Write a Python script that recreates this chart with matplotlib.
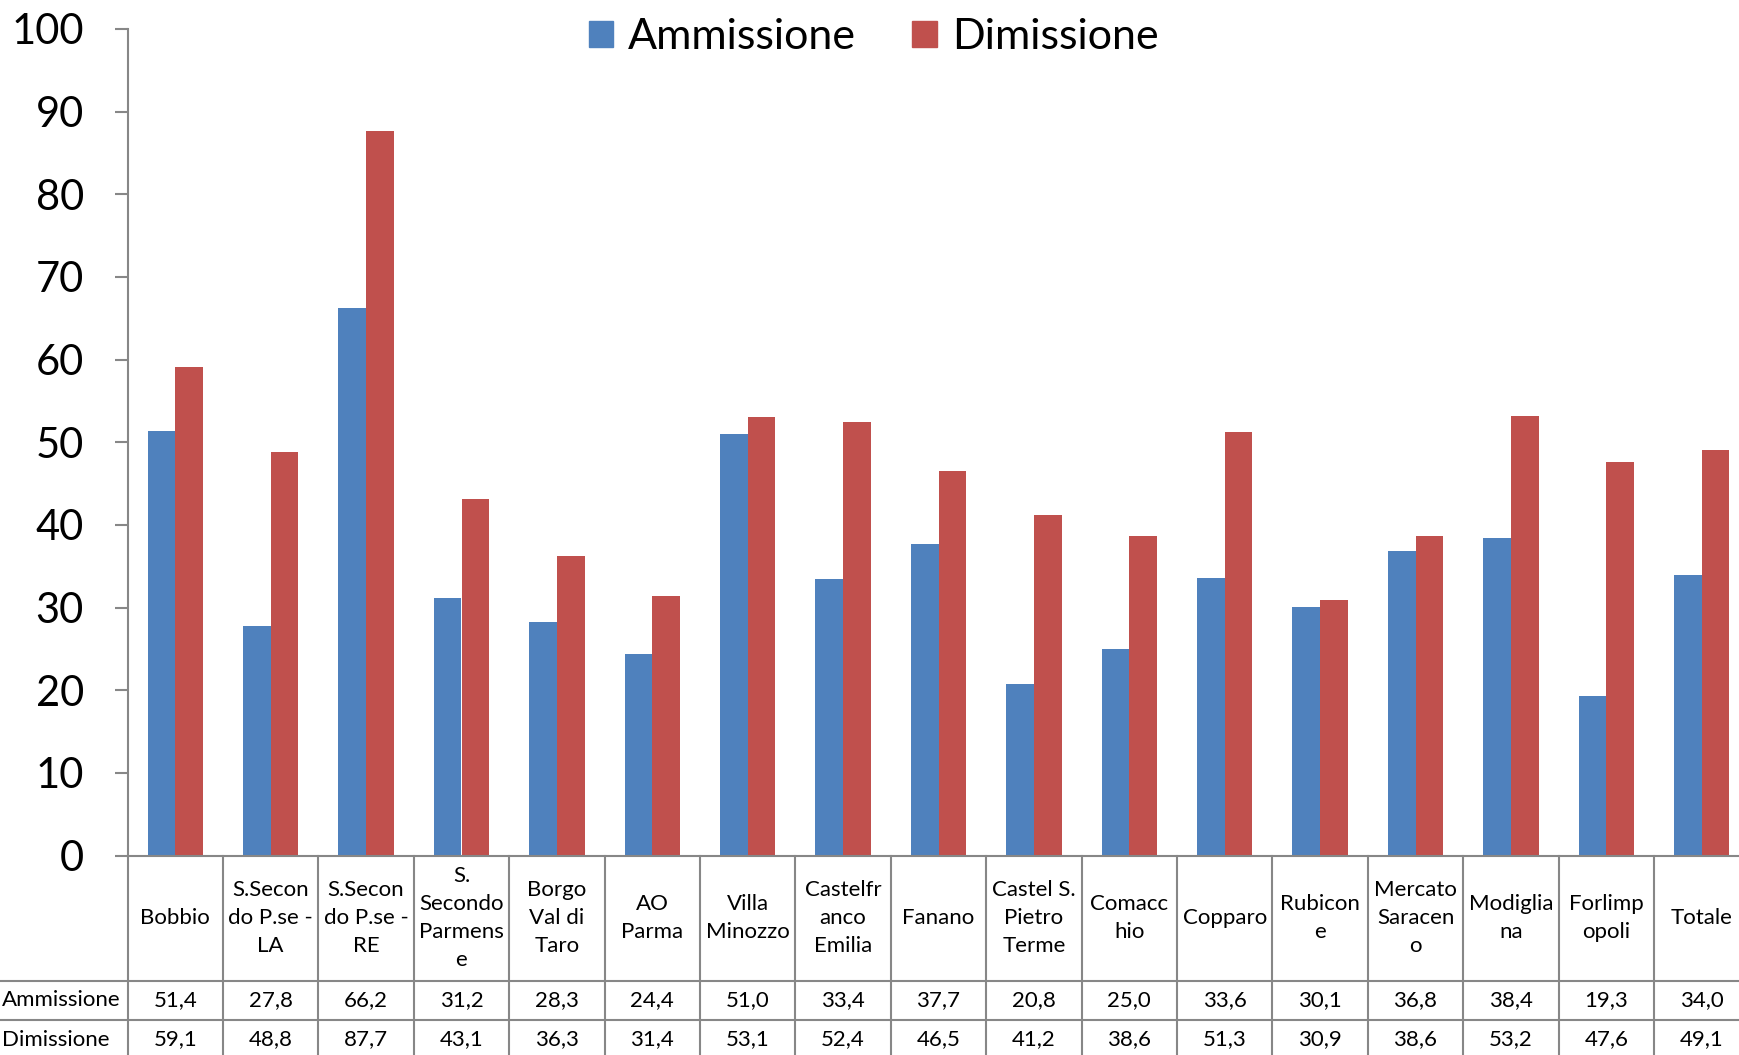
import matplotlib
matplotlib.use('Agg')
import matplotlib.pyplot as plt
import matplotlib.transforms as mtransforms
from matplotlib.patches import Patch
import numpy as np

plt.rcParams['font.family'] = ['Lato', 'DejaVu Sans']

CATEGORIES = ['Bobbio', 'S.Secon\ndo P.se -\nLA', 'S.Secon\ndo P.se -\nRE',
              'S.\nSecondo\nParmens\ne', 'Borgo\nVal di\nTaro', 'AO\nParma',
              'Villa\nMinozzo', 'Castelfr\nanco\nEmilia', 'Fanano',
              'Castel S.\nPietro\nTerme', 'Comacc\nhio', 'Copparo', 'Rubicon\ne',
              'Mercato\nSaracen\no', 'Modiglia\nna', 'Forlimp\nopoli', 'Totale']
AMMISSIONE = [51.4, 27.8, 66.2, 31.2, 28.3, 24.4, 51.0, 33.4, 37.7, 20.8,
              25.0, 33.6, 30.1, 36.8, 38.4, 19.3, 34.0]
DIMISSIONE = [59.1, 48.8, 87.7, 43.1, 36.3, 31.4, 53.1, 52.4, 46.5, 41.2,
              38.6, 51.3, 30.9, 38.6, 53.2, 47.6, 49.1]
SERIES = ['Ammissione', 'Dimissione']
COLORS = ['#4F81BD', '#C0504D']
GRID = '#878787'

W, H = 1740, 1055
fig = plt.figure(figsize=(W / 100, H / 100), dpi=100)

# axes geometry in pixels (table hangs below the plot area)
x0, col_w, n = 127.6, 95.4, len(CATEGORIES)
y_top, y_zero = 28.9, 855.6
ax = fig.add_axes([x0 / W, 1 - y_zero / H, n * col_w / W, (y_zero - y_top) / H])

x = np.arange(n)
bw = 0.29
ax.bar(x - bw / 2, AMMISSIONE, bw, color=COLORS[0])
ax.bar(x + bw / 2, DIMISSIONE, bw, color=COLORS[1])

ax.set_xlim(-0.5, n - 0.5)
ax.set_ylim(0, 100)
ax.set_yticks(range(0, 101, 10))
ax.set_xticks([])
for s in ['top', 'right']:
    ax.spines[s].set_visible(False)
for s in ['left', 'bottom']:
    ax.spines[s].set_color(GRID)
    ax.spines[s].set_linewidth(1.5)
ax.tick_params(axis='y', length=9.5, width=1.5, color=GRID, pad=22, labelsize=30)

# data table under the plot
tr = mtransforms.blended_transform_factory(ax.transData, fig.transFigure)
label_left = -0.5 - x0 / col_w
y_head = 1 - 981 / H
y_amm = 1 - 1020 / H
y_dim = 1 - 1059 / H
kw = dict(color=GRID, lw=1.5, transform=tr, clip_on=False)
for yy in [y_head, y_amm]:
    ax.plot([label_left, n - 0.5], [yy, yy], **kw)
ax.plot([-0.5, -0.5], [y_dim, 1 - y_zero / H], **kw)
for i in range(n):
    ax.plot([i + 0.5, i + 0.5], [y_dim, 1 - y_zero / H], **kw)

tsize = 16
for i, lab in enumerate(CATEGORIES):
    ax.text(i, (y_head + 1 - y_zero / H) / 2, lab, transform=tr, ha='center',
            va='center', fontsize=tsize, linespacing=1.5, clip_on=False)
    ax.text(i, (y_amm + y_head) / 2, f'{AMMISSIONE[i]:.1f}'.replace('.', ','),
            transform=tr, ha='center', va='center', fontsize=tsize, clip_on=False)
    ax.text(i, (y_dim + y_amm) / 2, f'{DIMISSIONE[i]:.1f}'.replace('.', ','),
            transform=tr, ha='center', va='center', fontsize=tsize, clip_on=False)
ax.text(label_left + 0.02, (y_amm + y_head) / 2, SERIES[0], transform=tr,
        ha='left', va='center', fontsize=tsize, clip_on=False)
ax.text(label_left + 0.02, (y_dim + y_amm) / 2, SERIES[1], transform=tr,
        ha='left', va='center', fontsize=tsize, clip_on=False)

handles = [Patch(color=c, label=s) for c, s in zip(COLORS, SERIES)]
fig.legend(handles=handles, loc='upper center', bbox_to_anchor=(0.502, 0.999),
           ncol=2, frameon=False, fontsize=31, handlelength=0.57,
           handleheight=0.57, handletextpad=0.35, columnspacing=1.3,
           borderaxespad=0)

fig.savefig('out.png', dpi=100)
